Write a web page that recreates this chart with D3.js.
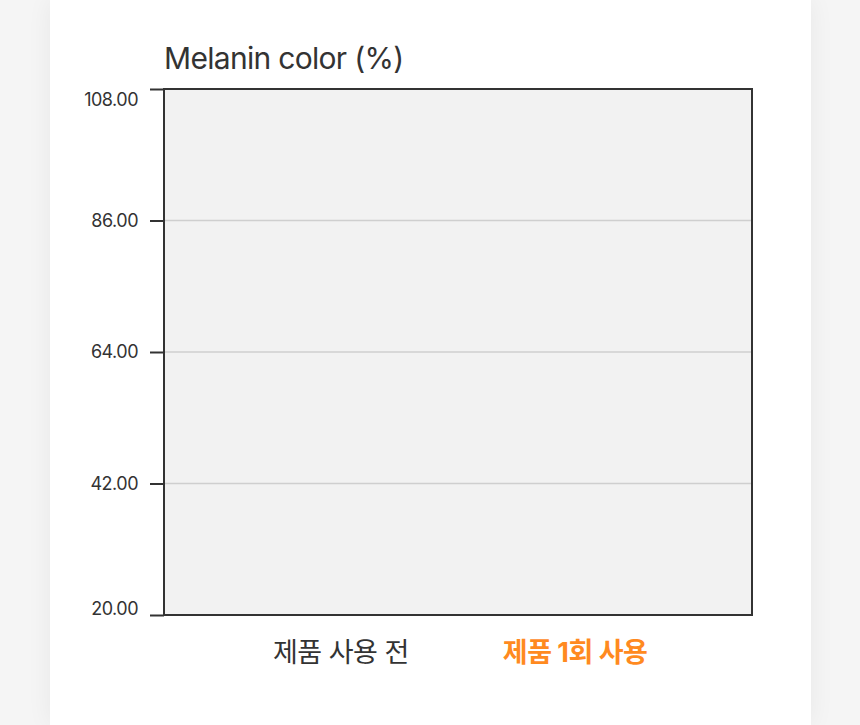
<!DOCTYPE html>
<html>
<head>
<meta charset="utf-8">
<script src="https://cdn.jsdelivr.net/npm/d3@7"></script>
<style>
  html, body { margin: 0; padding: 0; background: #f5f5f5; }
  body { width: 860px; height: 725px; overflow: hidden; position: relative; }
  .card {
    position: absolute; left: 50px; top: 0; width: 761px; height: 725px;
    background: #fff; box-shadow: 0 0 24px rgba(0,0,0,0.06);
  }
  svg { position: absolute; left: 0; top: 0; }
  text { font-family: "Inter", "Noto Sans CJK KR", "Noto Sans", sans-serif; }
</style>
</head>
<body>
<div class="card"></div>
<svg id="chart" width="860" height="725"></svg>
<script>

// chart data
var categories = ["제품 사용 전", "제품 1회 사용"];
var values = [null, null];   // no bars shown in the picture
var yTicks = [20, 42, 64, 86, 108];
var title = "Melanin color (%)";

// set margins
var margin = {top: 89, right: 108, bottom: 110, left: 164},
    width = 860 - margin.left - margin.right,
    height = 725 - margin.top - margin.bottom;

var svg = d3.select("#chart")
  .append("g")
  .attr("transform", "translate(" + margin.left + "," + margin.top + ")");

// make scales
var yScale = d3.scaleLinear()
  .domain([20, 108])
  .range([height, 0]);

var xScale = d3.scalePoint()
  .domain(categories)
  .range([0, width])
  .padding(0.755);

// plot background
svg.append("rect")
  .attr("x", 0)
  .attr("y", 0)
  .attr("width", width)
  .attr("height", height)
  .style("fill", "#f2f2f2");

// gridlines
svg.selectAll(".grid")
  .data(yTicks.slice(1, -1))
  .enter()
  .append("line")
  .attr("class", "grid")
  .attr("x1", 0)
  .attr("x2", width)
  .attr("y1", function(d) {return yScale(d);})
  .attr("y2", function(d) {return yScale(d);})
  .style("stroke", "#cfcfcf")
  .style("stroke-width", 1.5);

// bars (none drawn when values are missing)
var barWidth = 120;
svg.selectAll(".bar")
  .data(values.map(function(v, i) {return {cat: categories[i], value: v};})
    .filter(function(d) {return d.value != null;}))
  .enter()
  .append("rect")
  .attr("class", "bar")
  .attr("x", function(d) {return xScale(d.cat) - barWidth / 2;})
  .attr("width", barWidth)
  .attr("y", function(d) {return yScale(d.value);})
  .attr("height", function(d) {return height - yScale(d.value);})
  .style("fill", function(d, i) {return i == 0 ? "#bdbdbd" : "#ff8a1f";});

// y axis
var yAxis = d3.axisLeft(yScale)
  .tickValues(yTicks)
  .tickSize(14)
  .tickPadding(12)
  .tickFormat(d3.format(".2f"));

var gy = svg.append("g")
  .attr("class", "axis")
  .call(yAxis);

gy.select(".domain").remove();
gy.selectAll(".tick line")
  .style("stroke", "#333")
  .style("stroke-width", 2);

// keep first and last labels inside the plot height
var lastTick = yTicks.length - 1;
gy.selectAll(".tick text")
  .style("font-size", "18px")
  .style("fill", "#333")
  .style("letter-spacing", "-0.5px")
  .attr("dy", function(d, i) {
    if (i == 0) return "-0.02em";
    if (i == lastTick) return "0.9em";
    return "0.32em";
  });

// plot border
svg.append("rect")
  .attr("x", 0)
  .attr("y", 0)
  .attr("width", width)
  .attr("height", height)
  .style("fill", "none")
  .style("stroke", "#333")
  .style("stroke-width", 2);

// x labels
svg.selectAll(".xlabel")
  .data(categories)
  .enter()
  .append("text")
  .attr("class", "xlabel")
  .attr("x", function(d) {return xScale(d);})
  .attr("y", height + 47)
  .attr("text-anchor", "middle")
  .style("font-size", "27px")
  .style("letter-spacing", "-0.5px")
  .style("font-weight", function(d, i) {return i == 1 ? 700 : 400;})
  .style("fill", function(d, i) {return i == 1 ? "#ff8a1f" : "#333";})
  .text(function(d) {return d;});

// title
svg.append("text")
  .attr("x", 0)
  .attr("y", -20)
  .style("font-size", "30px")
  .style("letter-spacing", "-0.7px")
  .style("fill", "#333")
  .text(title);

</script>
</body>
</html>
